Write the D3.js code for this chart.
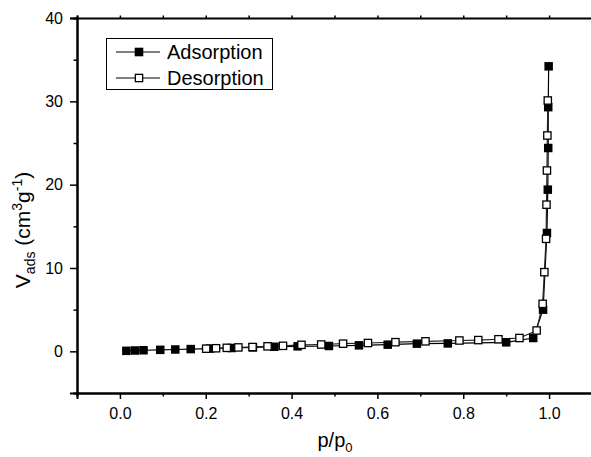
<!DOCTYPE html>
<html>
<head>
<meta charset="utf-8">
<script src="https://cdn.jsdelivr.net/npm/d3@7"></script>
<style>
  body { margin: 0; background: #fff; }
  svg { display: block; font-family: Arial, "Liberation Sans", sans-serif; }
</style>
</head>
<body>
<div id="chart"></div>
<script>
// adsorption branch (filled squares)
const adsX = [0.015, 0.035, 0.055, 0.094, 0.129, 0.165, 0.21, 0.26, 0.31, 0.36, 0.414, 0.487, 0.557, 0.624, 0.692, 0.764, 0.90, 0.963, 0.986, 0.995, 0.997, 0.998, 0.998, 0.999];
const adsY = [0.06, 0.1, 0.13, 0.18, 0.22, 0.27, 0.33, 0.4, 0.47, 0.55, 0.6, 0.64, 0.72, 0.8, 0.92, 0.95, 1.08, 1.6, 5.0, 14.2, 19.4, 24.4, 29.3, 34.2];

// desorption branch (open squares)
const desX = [0.997, 0.996, 0.995, 0.994, 0.993, 0.989, 0.985, 0.971, 0.931, 0.882, 0.835, 0.791, 0.712, 0.642, 0.578, 0.520, 0.469, 0.423, 0.380, 0.344, 0.309, 0.276, 0.249, 0.224, 0.201];
const desY = [30.1, 25.9, 21.7, 17.6, 13.5, 9.5, 5.7, 2.5, 1.6, 1.45, 1.35, 1.3, 1.2, 1.1, 1.0, 0.92, 0.82, 0.78, 0.66, 0.6, 0.52, 0.47, 0.42, 0.37, 0.32];

const xTicks = [0, 0.2, 0.4, 0.6, 0.8, 1.0];
const xMinor = [-0.1, 0.1, 0.3, 0.5, 0.7, 0.9, 1.1];
const yTicks = [0, 10, 20, 30, 40];
const yMinor = [-5, 5, 15, 25, 35];

const w = 591, h = 457;
const margin = { top: 18, right: -1, bottom: 64, left: 77 };

const svg = d3.select("#chart").append("svg")
  .attr("width", w)
  .attr("height", h);

const x = d3.scaleLinear().domain([-0.1, 1.1]).range([margin.left, w - margin.right]);
const y = d3.scaleLinear().domain([-5, 40]).range([h - margin.bottom, margin.top]);

const ads = adsX.map((v, i) => ({ x: v, y: adsY[i] }));
const des = desX.map((v, i) => ({ x: v, y: desY[i] }));

const line = d3.line().x(d => x(d.x)).y(d => y(d.y));

// axes
const fmt = d3.format(".1f");
function styleAxis(g) {
  g.select(".domain").attr("stroke", "#000").attr("stroke-width", 2);
  g.selectAll(".tick line").attr("stroke", "#000").attr("stroke-width", 1.5);
  g.selectAll("text").attr("fill", "#000").attr("font-size", 16);
}

svg.append("g")
  .attr("transform", `translate(0,${y(-5)})`)
  .call(d3.axisBottom(x).tickValues(xTicks).tickFormat(fmt).tickSize(6).tickPadding(9))
  .call(styleAxis);
svg.append("g")
  .attr("transform", `translate(0,${y(-5)})`)
  .call(d3.axisBottom(x).tickValues(xMinor).tickFormat("").tickSize(3.5))
  .call(styleAxis);

svg.append("g")
  .attr("transform", `translate(${x(-0.1)},0)`)
  .call(d3.axisLeft(y).tickValues(yTicks).tickSize(7).tickPadding(7))
  .call(styleAxis);
svg.append("g")
  .attr("transform", `translate(${x(-0.1)},0)`)
  .call(d3.axisLeft(y).tickValues(yMinor).tickFormat("").tickSize(3.5))
  .call(styleAxis);

// top and right frame
svg.append("g")
  .attr("transform", `translate(0,${y(40)})`)
  .call(d3.axisTop(x).tickValues(xTicks.concat(xMinor)).tickFormat("").tickSize(2.5))
  .call(styleAxis);
svg.append("g")
  .attr("transform", `translate(${x(1.1)},0)`)
  .call(d3.axisRight(y).tickValues(yTicks).tickFormat("").tickSize(3))
  .call(styleAxis);

// series
svg.append("path").datum(ads)
  .attr("fill", "none").attr("stroke", "#000").attr("stroke-width", 1.2)
  .attr("d", line);
svg.append("path").datum(des)
  .attr("fill", "none").attr("stroke", "#222").attr("stroke-width", 1.2)
  .attr("d", line);

const s = 8.5;
svg.append("g").selectAll("rect").data(ads).join("rect")
  .attr("x", d => x(d.x) - s / 2).attr("y", d => y(d.y) - s / 2)
  .attr("width", s).attr("height", s)
  .attr("fill", "#000");
svg.append("g").selectAll("rect").data(des).join("rect")
  .attr("x", d => x(d.x) - s / 2 + 0.6).attr("y", d => y(d.y) - s / 2 + 0.6)
  .attr("width", s - 1.2).attr("height", s - 1.2)
  .attr("fill", "#fff").attr("stroke", "#000").attr("stroke-width", 1.3);

// legend
const lg = svg.append("g");
lg.append("rect")
  .attr("x", 106.5).attr("y", 38.5).attr("width", 166).attr("height", 51)
  .attr("fill", "#fff").attr("stroke", "#000").attr("stroke-width", 1);
const legendItems = [
  { name: "Adsorption", fill: "#000", cy: 52 },
  { name: "Desorption", fill: "#fff", cy: 78 }
];
legendItems.forEach(it => {
  lg.append("line").attr("x1", 116).attr("x2", 160).attr("y1", it.cy).attr("y2", it.cy)
    .attr("stroke", "#000").attr("stroke-width", 1.2);
  lg.append("rect").attr("x", 139 - s / 2 + 0.6).attr("y", it.cy - s / 2 + 0.6)
    .attr("width", s - 1.2).attr("height", s - 1.2)
    .attr("fill", it.fill).attr("stroke", "#000").attr("stroke-width", 1.3);
  lg.append("text").attr("x", 167).attr("y", it.cy).attr("dy", "0.36em")
    .attr("font-size", 20).text(it.name);
});

// axis titles
const xt = svg.append("text")
  .attr("x", 335).attr("y", 447)
  .attr("text-anchor", "middle").attr("font-size", 20);
xt.append("tspan").text("p/p");
xt.append("tspan").attr("font-size", 13).attr("dy", 5).text("0");

const yt = svg.append("text")
  .attr("transform", "translate(30,230) rotate(-90)")
  .attr("text-anchor", "middle").attr("font-size", 21);
yt.append("tspan").text("V");
yt.append("tspan").attr("font-size", 14).attr("dy", 5).text("ads");
yt.append("tspan").attr("dy", -5).text(" (cm");
yt.append("tspan").attr("font-size", 14).attr("dy", -8).text("3");
yt.append("tspan").attr("dy", 8).text("g");
yt.append("tspan").attr("font-size", 14).attr("dy", -8).text("-1");
yt.append("tspan").attr("dy", 8).text(")");

console.log("JS running");
</script>
</body>
</html>
